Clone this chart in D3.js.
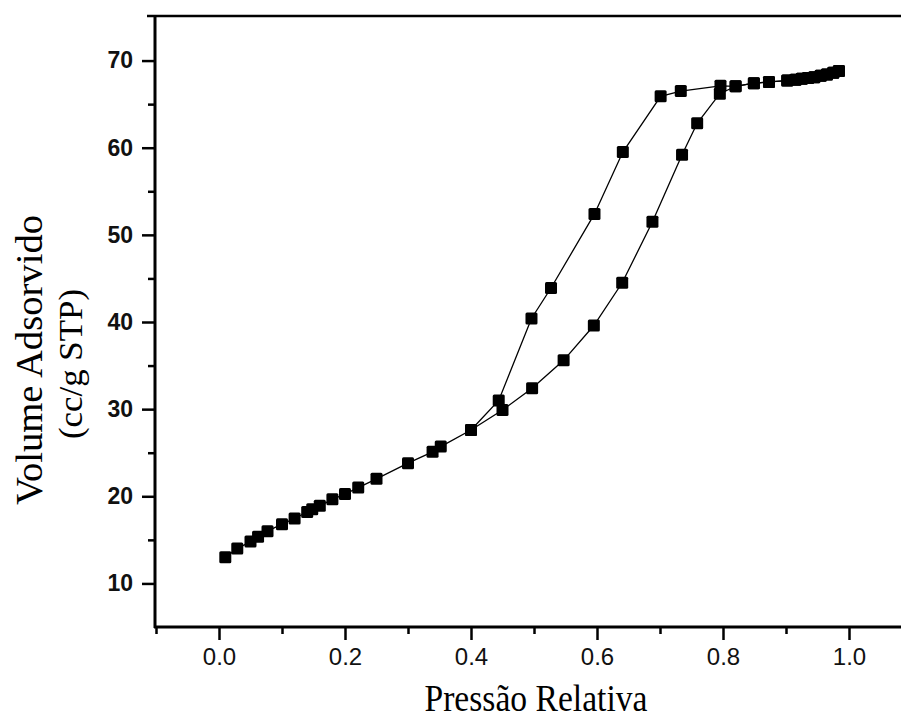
<!DOCTYPE html>
<meta charset="utf-8" />

<!-- Load d3.js -->
<script src="https://d3js.org/d3.v7.min.js"></script>

<style>
	body { margin: 0; background: #fff; }
</style>

<!-- Create a div where the graph will take place -->
<div id="my_dataviz"></div>

<script>
	// adsorption branch (relative pressure, volume)
	var adsX = [0.01, 0.029, 0.05, 0.062, 0.077, 0.1, 0.12, 0.14, 0.148, 0.16, 0.18, 0.2, 0.221, 0.25, 0.3, 0.339, 0.352, 0.4, 0.45, 0.497, 0.547, 0.595, 0.64, 0.688, 0.735, 0.759, 0.795, 0.82, 0.849, 0.873, 0.902, 0.915, 0.925, 0.935, 0.945, 0.955, 0.965, 0.975, 0.984];
	var adsY = [13.0, 14.0, 14.8, 15.35, 16.0, 16.8, 17.45, 18.2, 18.5, 18.9, 19.65, 20.25, 21.0, 22.0, 23.8, 25.1, 25.7, 27.6, 29.9, 32.4, 35.6, 39.6, 44.5, 51.5, 59.2, 62.8, 66.2, 67.05, 67.4, 67.55, 67.7, 67.8, 67.9, 68.0, 68.1, 68.25, 68.4, 68.6, 68.8];

	// desorption branch
	var desX = [0.984, 0.975, 0.965, 0.955, 0.945, 0.935, 0.925, 0.915, 0.902, 0.873, 0.849, 0.82, 0.796, 0.733, 0.701, 0.641, 0.596, 0.527, 0.496, 0.444, 0.4];
	var desY = [68.8, 68.6, 68.4, 68.25, 68.1, 68.0, 67.9, 67.8, 67.7, 67.55, 67.4, 67.05, 67.1, 66.5, 65.9, 59.5, 52.4, 43.9, 40.4, 31.0, 27.6];

	// ticks
	var xTicks = [0, 0.2, 0.4, 0.6, 0.8, 1.0];
	var xMinor = [-0.1, 0.1, 0.3, 0.5, 0.7, 0.9];
	var yTicks = [10, 20, 30, 40, 50, 60, 70];
	var yMinor = [15, 25, 35, 45, 55, 65];

	var width = 901,
		height = 722;

	var svg = d3
		.select('#my_dataviz')
		.append('svg')
		.attr('width', width)
		.attr('height', height);

	var x = d3.scaleLinear().domain([-0.1, 1.1]).range([156, 912]);
	var y = d3.scaleLinear().domain([5, 75]).range([627, 17]);

	// X axis (major + minor)
	var gx = svg
		.append('g')
		.attr('transform', 'translate(0,627)')
		.call(
			d3.axisBottom(x).tickValues(xTicks).tickSize(13).tickPadding(8).tickFormat(d3.format('.1f'))
		);
	gx.selectAll('text')
		.style('font-family', 'Liberation Sans, Arial')
		.style('font-size', '24px')
		.attr('fill', '#111');
	svg
		.append('g')
		.attr('transform', 'translate(0,627)')
		.call(d3.axisBottom(x).tickValues(xMinor).tickSize(7).tickFormat(''));

	// Y axis (major + minor)
	var gy = svg
		.append('g')
		.attr('transform', 'translate(155,0)')
		.call(d3.axisLeft(y).tickValues(yTicks).tickSize(13).tickPadding(9));
	gy.selectAll('text')
		.style('font-family', 'Liberation Sans, Arial')
		.style('font-size', '23px')
		.style('font-weight', 'bold')
		.attr('fill', '#111');
	svg
		.append('g')
		.attr('transform', 'translate(155,0)')
		.call(d3.axisLeft(y).tickValues(yMinor).tickSize(7).tickFormat(''));

	svg.selectAll('.domain').remove();
	svg.selectAll('.tick line').attr('stroke', '#000').attr('stroke-width', 2.5);

	// frame lines
	svg.append('line').attr('x1', 155).attr('x2', 155).attr('y1', 15).attr('y2', 628).attr('stroke', '#000').attr('stroke-width', 3);
	svg.append('line').attr('x1', 154).attr('x2', width).attr('y1', 627).attr('y2', 627).attr('stroke', '#000').attr('stroke-width', 3);
	svg.append('line').attr('x1', 147).attr('x2', width).attr('y1', 16).attr('y2', 16).attr('stroke', '#000').attr('stroke-width', 2.5);

	var line = d3
		.line()
		.x(function (d) { return x(d[0]); })
		.y(function (d) { return y(d[1]); });

	var ads = adsX.map(function (v, i) { return [v, adsY[i]]; });
	var des = desX.map(function (v, i) { return [v, desY[i]]; });

	[ads, des].forEach(function (data) {
		svg
			.append('path')
			.datum(data)
			.attr('d', line)
			.attr('fill', 'none')
			.attr('stroke', '#000')
			.attr('stroke-width', 1.3);

		svg
			.append('g')
			.selectAll('rect')
			.data(data)
			.enter()
			.append('rect')
			.attr('x', function (d) { return x(d[0]) - 6; })
			.attr('y', function (d) { return y(d[1]) - 6; })
			.attr('width', 12)
			.attr('height', 12)
			.attr('rx', 1.5)
			.attr('fill', '#000');
	});

	// X label
	svg
		.append('text')
		.attr('x', 536)
		.attr('y', 711)
		.attr('text-anchor', 'middle')
		.attr('textLength', 223)
		.attr('lengthAdjust', 'spacingAndGlyphs')
		.style('font-family', 'Liberation Serif, Times New Roman')
		.style('font-size', '38px')
		.text('Pressão Relativa');

	// Y label (two lines)
	svg
		.append('text')
		.attr('text-anchor', 'middle')
		.attr('transform', 'translate(42,360)rotate(-90)')
		.attr('textLength', 290)
		.attr('lengthAdjust', 'spacingAndGlyphs')
		.style('font-family', 'Liberation Serif, Times New Roman')
		.style('font-size', '38px')
		.text('Volume Adsorvido');
	svg
		.append('text')
		.attr('text-anchor', 'middle')
		.attr('transform', 'translate(82,364)rotate(-90)')
		.attr('textLength', 150)
		.attr('lengthAdjust', 'spacingAndGlyphs')
		.style('font-family', 'Liberation Serif, Times New Roman')
		.style('font-size', '34px')
		.text('(cc/g STP)');
</script>
